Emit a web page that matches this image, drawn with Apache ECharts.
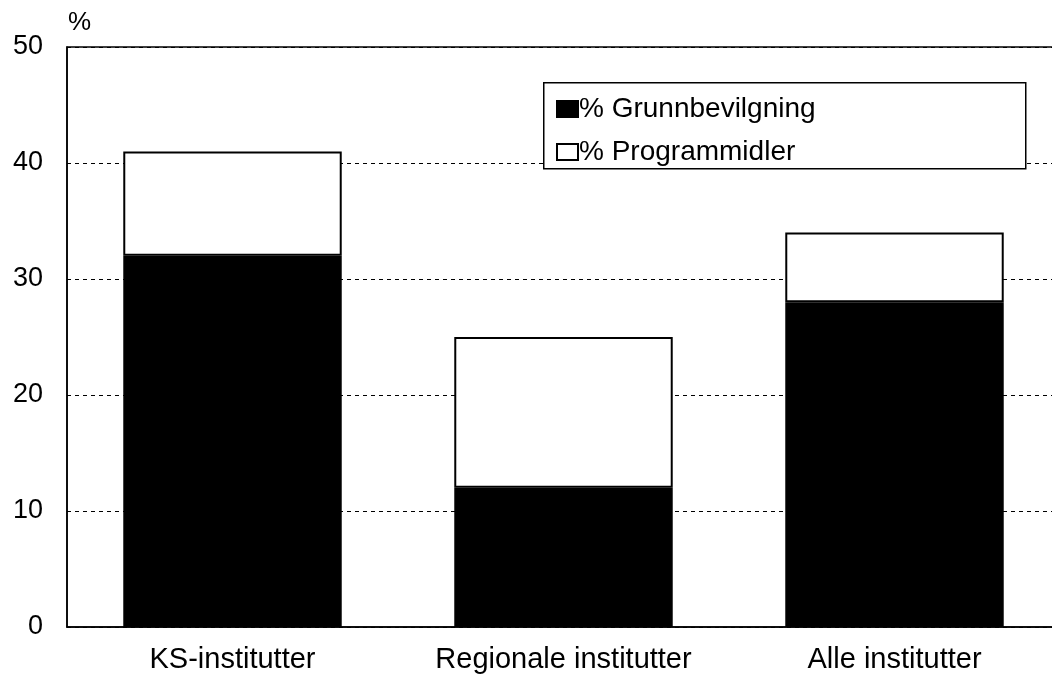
<!DOCTYPE html>
<html>
<head>
<meta charset="utf-8">
<script src="https://cdn.jsdelivr.net/npm/echarts@6/dist/echarts.min.js"></script>
<style>
  html, body { margin: 0; padding: 0; background: #fff; overflow: hidden; }
  #chart { width: 1060px; height: 675px; }
</style>
</head>
<body>
<div id="chart"></div>
<script>
const categories = ['KS-institutter', 'Regionale institutter', 'Alle institutter'];
const grunnbevilgning = [32, 12, 28];
const programmidler = [9, 13, 6];
const seriesNames = ['% Grunnbevilgning', '% Programmidler'];

// plot runs a little past the right edge of the window, as in the original
const chart = echarts.init(document.getElementById('chart'));
const font = 'Arial, "Liberation Sans", sans-serif';

const option = {
  backgroundColor: '#fff',
  animation: false,
  grid: {
    left: 67, right: 0, top: 47, bottom: 48,
    show: true, borderColor: '#000', borderWidth: 1.5, backgroundColor: 'transparent'
  },
  graphic: [
    {
      type: 'rect', left: 543, top: 82, z: 10,
      shape: { width: 482, height: 86 },
      style: { fill: '#fff', stroke: '#000', lineWidth: 1.5 }
    }
  ],
  legend: {
    data: seriesNames,
    orient: 'vertical',
    left: 551, top: 90,
    itemWidth: 21, itemHeight: 16, itemGap: 15,
    icon: 'rect',
    z: 20,
    textStyle: { fontFamily: font, fontSize: 28, lineHeight: 28, color: '#000', padding: [0, 0, 0, -4] }
  },
  xAxis: {
    type: 'category',
    data: categories,
    axisLine: { lineStyle: { color: '#000', width: 1.5 } },
    axisTick: { show: false },
    axisLabel: { fontFamily: font, fontSize: 29, color: '#000', margin: 18, interval: 0 }
  },
  yAxis: {
    type: 'value',
    min: 0, max: 50, interval: 10,
    name: '%',
    nameLocation: 'end',
    nameGap: 11,
    nameTextStyle: { fontFamily: font, fontSize: 26, color: '#000', align: 'left', padding: [0, 0, 0, 1] },
    axisLine: { show: true, lineStyle: { color: '#000', width: 1.5 } },
    axisTick: { show: false },
    axisLabel: { fontFamily: font, fontSize: 27, color: '#000', margin: 24, padding: [7, 0, 0, 0] },
    splitLine: { show: true, lineStyle: { color: '#000', type: [4, 4], width: 1 } }
  },
  series: [
    {
      name: seriesNames[0],
      type: 'bar',
      stack: 'total',
      barWidth: '66%',
      data: grunnbevilgning,
      itemStyle: { color: '#000', borderColor: '#000', borderWidth: 1.5 }
    },
    {
      name: seriesNames[1],
      type: 'bar',
      stack: 'total',
      barWidth: '66%',
      data: programmidler,
      itemStyle: { color: '#fff', borderColor: '#000', borderWidth: 2 }
    }
  ]
};

chart.setOption(option);
</script>
</body>
</html>
